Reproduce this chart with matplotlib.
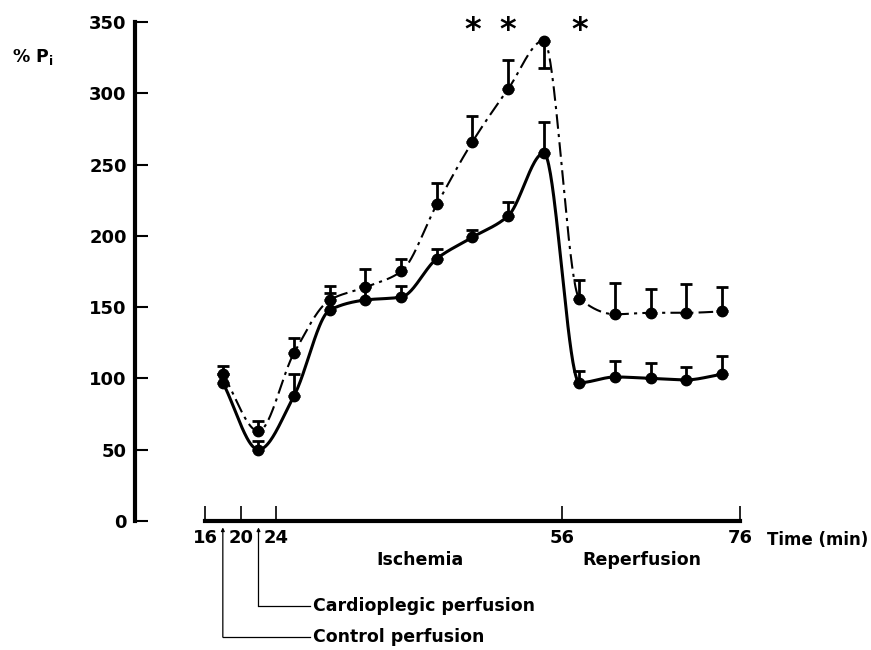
import numpy as np
import matplotlib
matplotlib.use("Agg")
import matplotlib.pyplot as plt

## Data (% Pi vs time)
time = np.array([18, 22, 26, 30, 34, 38, 42, 46, 50, 54, 58, 62, 66, 70, 74])
dashed_vals = np.array([103, 63, 118, 155, 164, 175, 222, 266, 303, 337, 156, 145, 146, 146, 147])
dashed_err_up = np.array([6, 7, 10, 10, 13, 9, 15, 18, 20, 0, 13, 22, 17, 20, 17])
dashed_err_down = np.array([0, 0, 0, 0, 0, 0, 0, 0, 0, 19, 0, 0, 0, 0, 0])
solid_vals = np.array([97, 50, 88, 148, 155, 157, 184, 199, 214, 258, 97, 101, 100, 99, 103])
solid_err_down = np.array([6, 6, 15, 12, 10, 8, 7, 5, 10, 22, 8, 11, 11, 9, 13])
star_times = [46, 50, 58]
xtick_vals = [16, 20, 24, 56, 76]
ytick_vals = [0, 50, 100, 150, 200, 250, 300, 350]


#Monotone cubic curve through the points (smooth line like the hand drawn one)
def pchip(x, y, xn):
    x = np.asarray(x, float)
    y = np.asarray(y, float)
    h = np.diff(x)
    d = np.diff(y) / h
    n = len(x)
    m = np.zeros(n)
    for k in range(1, n - 1):
        if d[k - 1] * d[k] > 0:
            w1 = 2 * h[k] + h[k - 1]
            w2 = h[k] + 2 * h[k - 1]
            m[k] = (w1 + w2) / (w1 / d[k - 1] + w2 / d[k])
    m[0] = d[0]
    m[-1] = d[-1]
    idx = np.clip(np.searchsorted(x, xn) - 1, 0, n - 2)
    t = (xn - x[idx]) / h[idx]
    h00 = 2 * t**3 - 3 * t**2 + 1
    h10 = t**3 - 2 * t**2 + t
    h01 = -2 * t**3 + 3 * t**2
    h11 = t**3 - t**2
    return h00 * y[idx] + h10 * h[idx] * m[idx] + h01 * y[idx + 1] + h11 * h[idx] * m[idx + 1]


plt.rcParams['font.family'] = ['DejaVu Sans']
plt.rcParams['font.weight'] = 'bold'

fig = plt.figure(figsize=(8.71, 6.5), dpi=100)
ax = fig.add_axes([0.155, 0.1985, 0.7176, 0.7677])

tt = np.linspace(time[0], time[-1], 600)

#Curves
ax.plot(tt, pchip(time, dashed_vals, tt), color='black', lw=1.5,
        dashes=(7, 2.5, 1.5, 2.5))
ax.plot(tt, pchip(time, solid_vals, tt), color='black', lw=2.2)

#Error bars
ax.errorbar(time, dashed_vals, yerr=[dashed_err_down, dashed_err_up], fmt='none',
            ecolor='black', elinewidth=2, capsize=4.5, capthick=2)
ax.errorbar(time, solid_vals, yerr=[np.zeros_like(solid_err_down), solid_err_down], fmt='none',
            ecolor='black', elinewidth=2, capsize=4.5, capthick=2)

#Points
ax.plot(time, dashed_vals, 'o', color='black', ms=7.5, zorder=5)
ax.plot(time, solid_vals, 'o', color='black', ms=7.5, zorder=5)

#Axes
ax.set_xlim(8.15, 78.25)
ax.set_ylim(0, 350)
ax.spines['top'].set_visible(False)
ax.spines['right'].set_visible(False)
ax.spines['left'].set_linewidth(3)
ax.spines['bottom'].set_linewidth(3)
ax.spines['left'].set_bounds(0, 350)
ax.spines['bottom'].set_bounds(16, 76)
ax.set_yticks(ytick_vals)
ax.set_xticks(xtick_vals)
ax.tick_params(axis='y', direction='in', length=9.5, width=1.5, pad=6, labelsize=13)
ax.tick_params(axis='x', direction='in', length=11, width=1.2, pad=6, labelsize=13)
for lab in ax.get_xticklabels() + ax.get_yticklabels():
    lab.set_fontweight('bold')

#Stars for significance
for s in star_times:
    ax.text(s, 338, '*', fontsize=23, fontweight='bold', ha='center', va='baseline',
            clip_on=False)

#Axis labels
fig.text(12 / 871, 1 - 57 / 650, r'% P$_\mathbf{i}$', fontsize=12.5, fontweight='bold',
         ha='left', va='center')
ax.text(79.0, -13.5, 'Time (min)', fontsize=12, fontweight='bold', ha='left', va='center',
        clip_on=False)
ax.text(40.1, -27.5, 'Ischemia', fontsize=12.5, fontweight='bold', ha='center', va='center',
        clip_on=False)
ax.text(65.0, -27.5, 'Reperfusion', fontsize=12.5, fontweight='bold', ha='center', va='center',
        clip_on=False)

#Perfusion markers
ax.annotate('', xy=(22, -4.5), xytext=(22, -59.5), annotation_clip=False,
            arrowprops=dict(arrowstyle='-|>', lw=0.9, color='black', mutation_scale=5,
                            shrinkA=0, shrinkB=0))
ax.plot([22, 27.8], [-59.5, -59.5], color='black', lw=0.9, clip_on=False)
ax.text(28.1, -59.5, 'Cardioplegic perfusion', fontsize=12.5, fontweight='bold',
        ha='left', va='center', clip_on=False)

ax.annotate('', xy=(18, -4.5), xytext=(18, -81.5), annotation_clip=False,
            arrowprops=dict(arrowstyle='-|>', lw=0.9, color='black', mutation_scale=5,
                            shrinkA=0, shrinkB=0))
ax.plot([18, 27.8], [-81.5, -81.5], color='black', lw=0.9, clip_on=False)
ax.text(28.1, -81.5, 'Control perfusion', fontsize=12.5, fontweight='bold',
        ha='left', va='center', clip_on=False)

fig.savefig('out.png', dpi=100)
